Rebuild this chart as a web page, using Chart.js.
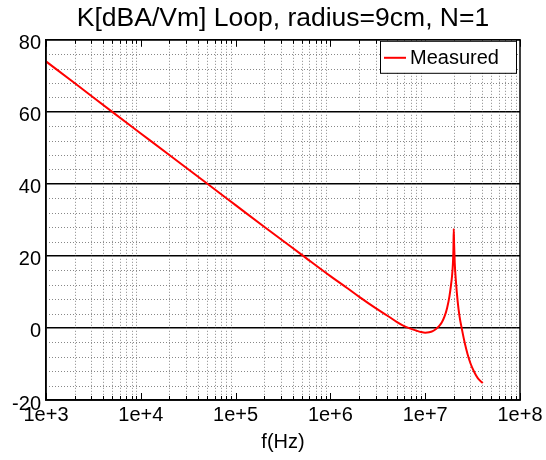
<!DOCTYPE html>
<html>
<head>
<meta charset="utf-8">
<script src="https://cdn.jsdelivr.net/npm/chart.js@4"></script>
<style>
  body { margin: 0; background: #fff; }
  canvas { display: block; }
</style>
</head>
<body>
<canvas id="loop" width="546" height="460"></canvas>
<script>
const freqHz = [
  1e3, 2e3, 5e3, 1e4, 2e4, 5e4, 1e5, 2e5, 5e5, 1e6, 1.5e6, 2e6, 3e6, 4e6, 5e6,
  6e6, 7e6, 8e6, 9e6, 1e7, 1.1e7, 1.2e7, 1.3e7, 1.4e7, 1.5e7, 1.6e7, 1.7e7, 1.8e7,
  1.87e7, 1.92e7, 1.96e7, 1.985e7, 2.0e7, 2.02e7, 2.05e7, 2.1e7, 2.2e7, 2.3e7,
  2.45e7, 2.6e7, 2.8e7, 3.0e7, 3.3e7, 3.6e7, 4.05e7
];
const kDb = [
  74.0, 68.0, 60.0, 54.0, 48.0, 40.1, 34.1, 28.1, 20.3, 14.4, 11.1, 8.7, 5.5, 3.4, 1.7,
  0.5, -0.2, -0.7, -1.1, -1.3, -1.2, -0.9, -0.3, 0.5, 1.6, 3.2, 5.5, 8.7,
  11.8, 14.5, 17.8, 22.0, 27.5, 23.0, 18.0, 13.6, 7.4, 3.3,
  -0.6, -3.9, -7.3, -9.8, -12.3, -14.0, -15.3
];
const xTicks = [1e3, 1e4, 1e5, 1e6, 1e7, 1e8];
const xTickLabels = ['1e+3', '1e+4', '1e+5', '1e+6', '1e+7', '1e+8'];
const yTicks = [-20, 0, 20, 40, 60, 80];
const yMinorStep = 4;

const FONT = '"Liberation Sans", Arial, sans-serif';

// dotted minor grid: 2..9 in each decade, every 4 dB
const minorGrid = {
  id: 'minorGrid',
  beforeDatasetsDraw(chart) {
    const { ctx, chartArea: a, scales: { x, y } } = chart;
    ctx.save();
    ctx.strokeStyle = '#888';
    ctx.lineWidth = 1;
    ctx.setLineDash([1, 2]);
    ctx.beginPath();
    for (let d = 0; d < xTicks.length - 1; d++) {
      for (let k = 2; k <= 9; k++) {
        const px = Math.round(x.getPixelForValue(xTicks[d] * k)) + 0.5;
        ctx.moveTo(px, a.top);
        ctx.lineTo(px, a.bottom);
      }
    }
    for (let v = yTicks[0]; v <= yTicks[yTicks.length - 1]; v += yMinorStep) {
      if (v % 20 === 0) continue;
      const py = Math.round(y.getPixelForValue(v)) + 0.5;
      ctx.moveTo(a.left, py);
      ctx.lineTo(a.right, py);
    }
    ctx.stroke();
    ctx.restore();
  }
};

// box around the plot plus inward ticks on top and bottom
const frame = {
  id: 'frame',
  afterDatasetsDraw(chart) {
    const { ctx, chartArea: a, scales: { x } } = chart;
    ctx.save();
    ctx.strokeStyle = '#000';
    ctx.lineWidth = 1;
    ctx.beginPath();
    for (let d = 0; d < xTicks.length; d++) {
      for (let k = 1; k <= 9; k++) {
        const v = xTicks[d] * k;
        if (v > xTicks[xTicks.length - 1]) break;
        const len = k === 1 ? 7 : 4;
        const px = Math.round(x.getPixelForValue(v)) + 0.5;
        ctx.moveTo(px, a.bottom);
        ctx.lineTo(px, a.bottom - len);
        ctx.moveTo(px, a.top);
        ctx.lineTo(px, a.top + len);
      }
    }
    ctx.stroke();
    ctx.lineWidth = 1.5;
    ctx.strokeRect(a.left, a.top, a.right - a.left, a.bottom - a.top);
    ctx.restore();
  }
};

// legend box in the upper right corner of the plot
const boxLegend = {
  id: 'boxLegend',
  afterDraw(chart) {
    const { ctx, chartArea: a } = chart;
    const ds = chart.data.datasets[0];
    const w = 136, h = 32;
    const left = a.right - 4 - w, top = a.top + 1;
    ctx.save();
    ctx.fillStyle = '#fff';
    ctx.fillRect(left, top, w, h);
    ctx.strokeStyle = '#000';
    ctx.lineWidth = 1;
    ctx.strokeRect(left + 0.5, top + 0.5, w, h);
    const cy = top + 17;
    ctx.strokeStyle = ds.borderColor;
    ctx.lineWidth = 2;
    ctx.beginPath();
    ctx.moveTo(left + 4, cy);
    ctx.lineTo(left + 26, cy);
    ctx.stroke();
    ctx.fillStyle = '#000';
    ctx.font = '20px ' + FONT;
    ctx.textBaseline = 'middle';
    ctx.fillText(ds.label, left + 30, cy + 1);
    ctx.restore();
  }
};

new Chart(document.getElementById('loop').getContext('2d'), {
  type: 'line',
  data: {
    datasets: [{
      label: 'Measured',
      data: freqHz.map((f, i) => ({ x: f, y: kDb[i] })),
      borderColor: '#ff0000',
      borderWidth: 2,
      pointRadius: 0,
      cubicInterpolationMode: 'monotone',
      fill: false,
    }]
  },
  options: {
    responsive: false,
    animation: false,
    layout: { padding: { left: 0, right: 26, top: 0, bottom: 0 } },
    plugins: {
      legend: { display: false },
      tooltip: { enabled: false },
      title: {
        display: true,
        fullSize: false,
        text: 'K[dBA/Vm] Loop, radius=9cm, N=1',
        color: '#000',
        font: { family: FONT, size: 26.5, weight: 'normal' },
        padding: { top: 3, bottom: 5 }
      }
    },
    scales: {
      x: {
        type: 'logarithmic',
        min: 1e3,
        max: 1e8,
        afterBuildTicks: s => { s.ticks = xTicks.map(v => ({ value: v })); },
        afterFit: s => { s.height = 60; },
        ticks: {
          callback: (v, i) => xTickLabels[i],
          color: '#000',
          font: { family: FONT, size: 20 },
          padding: 3,
          maxRotation: 0,
          autoSkip: false
        },
        grid: { display: false, drawTicks: false },
        border: { color: '#000', width: 1.5 },
        title: {
          display: true,
          text: 'f(Hz)',
          color: '#000',
          font: { family: FONT, size: 20 },
          padding: { top: 0, bottom: 6 }
        }
      },
      y: {
        min: -20,
        max: 80,
        afterBuildTicks: s => { s.ticks = yTicks.map(v => ({ value: v })); },
        afterFit: s => { s.width = 46; },
        ticks: {
          color: '#000',
          font: { family: FONT, size: 20 },
          padding: 5,
          labelOffset: 4
        },
        grid: { color: '#000', lineWidth: 1.5, drawTicks: false },
        border: { color: '#000', width: 1.5 }
      }
    }
  },
  plugins: [minorGrid, frame, boxLegend]
});
</script>
</body>
</html>
